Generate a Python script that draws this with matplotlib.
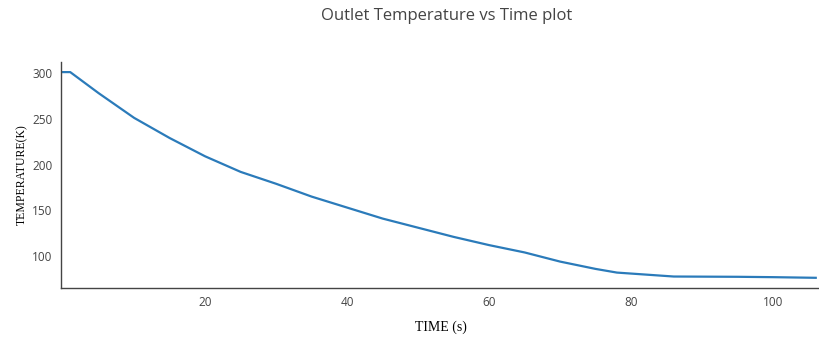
import matplotlib.pyplot as plt

time_s = [0, 1, 5, 10, 15, 20, 25, 30, 35, 40, 45, 50, 55, 60, 65, 70, 75, 78, 86, 95, 100, 106]
temp_k = [301, 301, 278, 251, 229, 209, 192, 179, 165, 153, 141, 131, 121, 112, 104, 94, 86, 82, 77.7, 77.4, 77, 76.3]

plt.rcParams['font.family'] = ['Open Sans', 'DejaVu Sans']

fig = plt.figure(figsize=(8.2, 3.39), dpi=100)
ax = fig.add_axes([0.0744, 0.150, 0.9256, 0.667])

ax.plot(time_s, temp_k, color='#2b7bba', linewidth=1.6)

ax.set_xlim(-0.3, 106.6)
ax.set_ylim(65, 312)
ax.set_xticks([20, 40, 60, 80, 100])
ax.set_yticks([100, 150, 200, 250, 300])
ax.tick_params(length=0, labelsize=8.5, labelcolor='#444444', pad=6)

for side in ['top', 'right']:
    ax.spines[side].set_visible(False)
for side in ['left', 'bottom']:
    ax.spines[side].set_color('#444444')
    ax.spines[side].set_linewidth(1)

ax.set_xlabel('TIME (s)', family='Liberation Serif', fontsize=10, color='black', labelpad=8)
ax.set_ylabel('TEMPERATURE(K)', family='Liberation Serif', fontsize=8.5, color='black', labelpad=3)
fig.suptitle('Outlet Temperature vs Time plot', x=0.545, y=0.975, fontsize=12, color='#444444')

fig.savefig('out.png', dpi=100)
